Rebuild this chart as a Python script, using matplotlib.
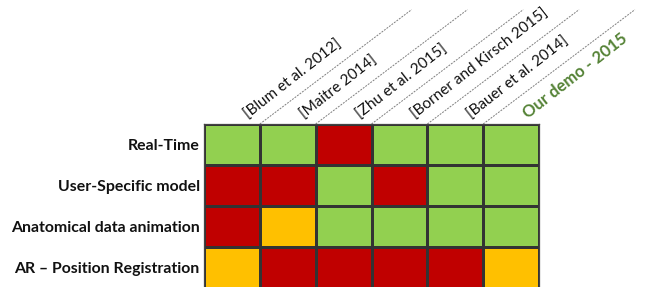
import matplotlib
matplotlib.use("Agg")
import matplotlib.pyplot as plt
import numpy as np
from matplotlib.colors import ListedColormap

plt.rcParams["font.family"] = ["Lato", "DejaVu Sans"]

# data: 0 = red (no), 1 = yellow (partial), 2 = green (yes)
features = ["Real-Time", "User-Specific model", "Anatomical data animation",
            "AR \u2013 Position Registration"]
works = ["[Blum et al. 2012]", "[Maitre 2014]", "[Zhu et al. 2015]",
         "[Borner and Kirsch 2015]", "[Bauer et al. 2014]", "Our demo - 2015"]
status = [
    [2, 2, 0, 2, 2, 2],
    [0, 0, 2, 0, 2, 2],
    [0, 1, 2, 2, 2, 2],
    [1, 0, 0, 0, 0, 1],
]

cmap = ListedColormap(["#C00000", "#FFC000", "#92D050"])
W, H = 652, 287

fig = plt.figure(figsize=(W / 100, H / 100), dpi=100)
ax = fig.add_axes([204 / W, -1 / H, 335 / W, 164 / H])

grid = np.array(status)
ax.pcolormesh(grid, cmap=cmap, vmin=-0.5, vmax=2.5,
              edgecolors="#333333", linewidth=0.9)
ax.set_xlim(0, len(works))
ax.set_ylim(len(features), 0)
for s in ax.spines.values():
    s.set_color("#444444")
    s.set_linewidth(0.9)

ax.set_xticks([])
ax.set_yticks(np.arange(len(features)) + 0.5)
ax.set_yticklabels(features, fontsize=11.4, fontweight="bold", color="#111111")
ax.tick_params(axis="y", length=0, pad=3)

# rotated column headers and dashed separators
ang = 37
col_px = 335 / len(works)
row_px = 164 / len(features)
for i, name in enumerate(works):
    green = name.startswith("Our")
    ax.text(i + 0.8, -0.12, name, rotation=38, rotation_mode="anchor",
            ha="left", va="baseline", clip_on=False,
            fontsize=12 if green else 11,
            fontweight="bold" if green else "normal",
            color="#548235" if green else "#111111")

length = 190  # px along the line
dx = length * np.cos(np.radians(ang)) / col_px
dy = length * np.sin(np.radians(ang)) / row_px
for k in range(1, len(works)):
    ax.plot([k, k + dx], [0, -dy], ls=(0, (2, 1.2)), lw=0.7,
            color="#7f7f7f", clip_on=False)

fig.savefig("out.png", dpi=100)
